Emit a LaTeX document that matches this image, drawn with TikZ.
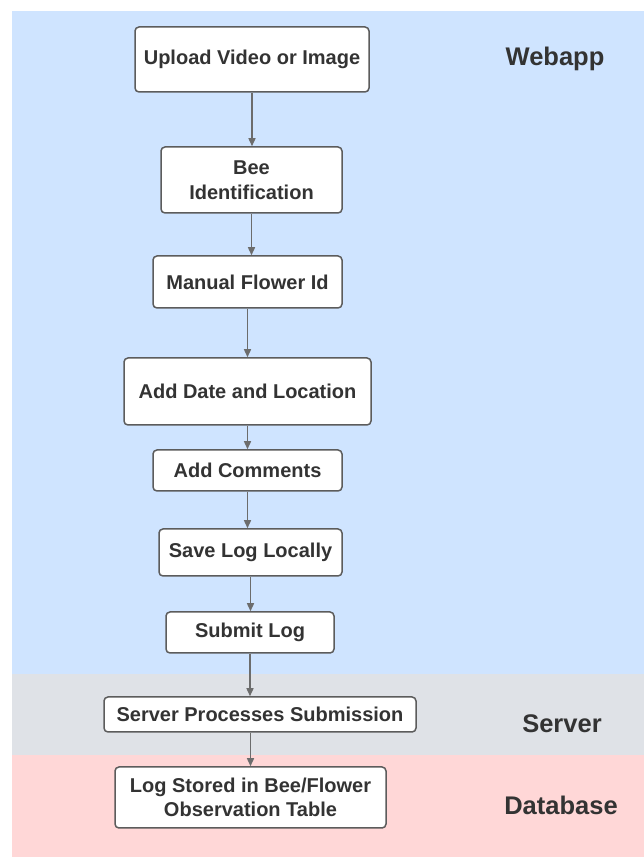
\documentclass[tikz,border=0pt]{standalone}
\usepackage{fontspec}
\setmainfont{Liberation Sans}
\usetikzlibrary{positioning,arrows.meta}
\definecolor{webblue}{HTML}{CFE4FF}
\definecolor{servgrey}{HTML}{DFE2E7}
\definecolor{dbpink}{HTML}{FFD7D7}
\definecolor{boxline}{HTML}{5C5C5C}
\definecolor{txt}{HTML}{333333}

\begin{document}
\begin{tikzpicture}[x=1pt, y=1pt, >={Triangle[length=8pt,width=7pt]},
  stepbox/.style={draw=boxline, line width=1.5pt, fill=white, rounded corners=4pt,
    align=center, text=txt, inner sep=0pt,
    font=\fontsize{20}{24.5}\selectfont\bfseries},
  lane/.style={text=txt, font=\fontsize{25.5}{30}\selectfont\bfseries},
  flow/.style={->, draw=boxline!90, line width=1.4pt}]
  \useasboundingbox (0,0) rectangle (644,857);
  % swim lanes
  \fill[webblue] (12,183) rectangle (644,846);
  \fill[servgrey] (12,102) rectangle (644,183);
  \fill[dbpink] (12,0) rectangle (644,102);

  \node[lane] (webapp) at (555,798) {Webapp};
  \node[lane] (server) at (562,133) {Server};
  \node[lane] (database) at (561,52) {Database};

  % steps
  \node[stepbox, minimum width=234pt, minimum height=65pt] (upload) at (252,797.5) {Upload Video or Image};
  \node[stepbox, minimum width=181pt, minimum height=66pt, below=53.5pt of upload, xshift=-0.5pt] (beeid) {Bee\\Identification};
  \node[stepbox, minimum width=189pt, minimum height=52pt, below=41.5pt of beeid, xshift=-4pt] (flowerid) {Manual Flower Id};
  \node[stepbox, minimum width=247pt, minimum height=67pt, below=48.5pt of flowerid] (dateloc) {Add Date and Location};
  \node[stepbox, minimum width=189pt, minimum height=41pt, below=23.5pt of dateloc] (comments) {Add Comments};
  \node[stepbox, minimum width=183pt, minimum height=47pt, below=36.5pt of comments, xshift=3pt] (savelog) {Save Log Locally};
  \node[stepbox, minimum width=168pt, minimum height=41pt, below=34.5pt of savelog, xshift=-0.5pt] (submit) {Submit Log};
  \node[stepbox, minimum width=312pt, minimum height=35pt, below=42.5pt of submit, xshift=10pt] (process) {Server Processes Submission};
  \node[stepbox, minimum width=271pt, minimum height=61pt, below=33.5pt of process, xshift=-9.5pt] (stored) {Log Stored in Bee/Flower\\Observation Table};

  \draw[flow] (upload.south) -- (upload.south |- beeid.north);
  \draw[flow] (beeid.south) -- (beeid.south |- flowerid.north);
  \draw[flow] (flowerid.south) -- (flowerid.south |- dateloc.north);
  \draw[flow] (dateloc.south) -- (dateloc.south |- comments.north);
  \draw[flow] (comments.south) -- (comments.south |- savelog.north);
  \draw[flow] (savelog.south) -- (savelog.south |- submit.north);
  \draw[flow] (submit.south) -- (submit.south |- process.north);
  \draw[flow] (stored.north |- process.south) -- (stored.north);
\end{tikzpicture}
\end{document}
